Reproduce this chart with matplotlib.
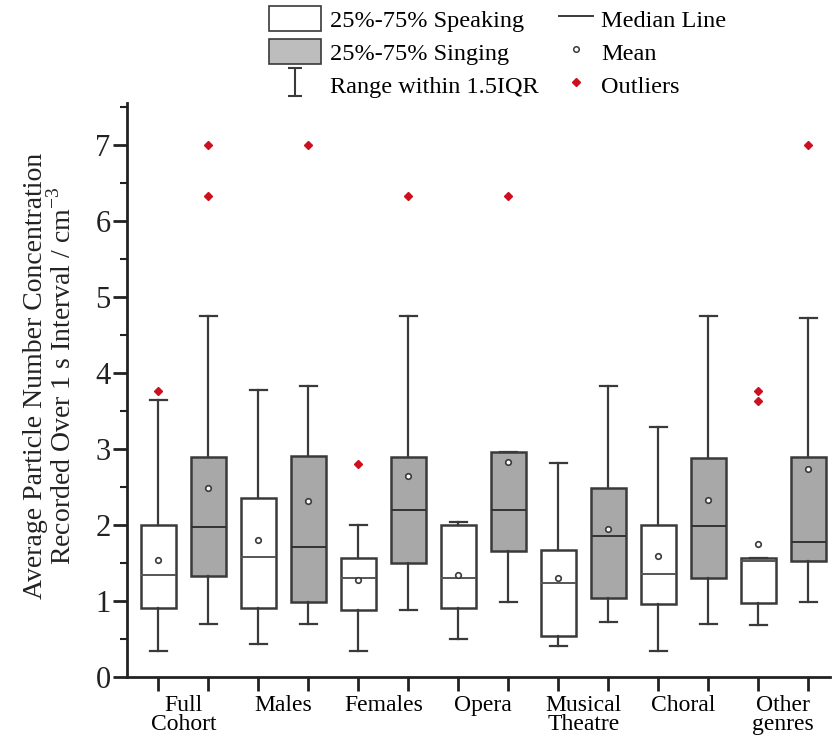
import numpy as np
import matplotlib
matplotlib.use("Agg")
import matplotlib.pyplot as plt
from matplotlib.patches import Patch
from matplotlib.lines import Line2D
from matplotlib.path import Path
from matplotlib.ticker import MultipleLocator

plt.rcParams['font.family'] = ['Liberation Serif', 'DejaVu Serif']
plt.rcParams['mathtext.fontset'] = 'custom'
plt.rcParams['mathtext.rm'] = 'Liberation Serif'

groups = ['Full\nCohort', 'Males', 'Females', 'Opera', 'Musical\nTheatre', 'Choral', 'Other\ngenres']

# speaking boxes: whislo, q1, median, q3, whishi, mean
spk_lo = [0.34, 0.43, 0.34, 0.50, 0.41, 0.34, 0.68]
spk_q1 = [0.90, 0.91, 0.88, 0.91, 0.54, 0.96, 0.97]
spk_med = [1.34, 1.58, 1.30, 1.30, 1.23, 1.35, 1.53]
spk_q3 = [2.00, 2.35, 1.56, 2.00, 1.67, 2.00, 1.57]
spk_hi = [3.64, 3.77, 2.00, 2.04, 2.81, 3.29, 1.57]
spk_mean = [1.54, 1.80, 1.28, 1.34, 1.30, 1.59, 1.75]
spk_out = [[3.76], [], [2.80], [], [], [], [3.76, 3.63]]

# singing boxes
sng_lo = [0.70, 0.70, 0.88, 0.98, 0.72, 0.70, 0.99]
sng_q1 = [1.33, 0.99, 1.50, 1.65, 1.04, 1.30, 1.52]
sng_med = [1.97, 1.71, 2.20, 2.20, 1.85, 1.98, 1.78]
sng_q3 = [2.89, 2.91, 2.89, 2.96, 2.49, 2.88, 2.89]
sng_hi = [4.75, 3.82, 4.75, 2.96, 3.82, 4.75, 4.72]
sng_mean = [2.48, 2.31, 2.64, 2.82, 1.95, 2.33, 2.74]
sng_out = [[6.33, 7.0], [7.0], [6.33], [6.33], [], [], [7.0]]

EDGE = '#3a3a3a'
GRAY = '#a8a8a8'
RED = '#cc1020'


def make_stats(lo, q1, med, q3, hi, mean, out):
    return [dict(whislo=a, q1=b, med=c, q3=d, whishi=e, mean=f, fliers=g)
            for a, b, c, d, e, f, g in zip(lo, q1, med, q3, hi, mean, out)]


fig = plt.figure(figsize=(8.32, 7.39), dpi=100)
ax = fig.add_axes([0.153, 0.084, 0.845, 0.777])

n = len(groups)
pos_spk = np.arange(n) * 2
pos_sng = np.arange(n) * 2 + 1

common = dict(widths=0.7, patch_artist=True, showmeans=True, showcaps=True,
              whiskerprops=dict(color=EDGE, linewidth=1.6),
              capprops=dict(color=EDGE, linewidth=1.6),
              meanprops=dict(marker='o', markerfacecolor='white', markeredgecolor=EDGE,
                             markersize=4, markeredgewidth=1.2),
              flierprops=dict(marker='D', markerfacecolor=RED, markeredgecolor=RED,
                              markersize=4.5, linestyle='none'))

ax.bxp(make_stats(spk_lo, spk_q1, spk_med, spk_q3, spk_hi, spk_mean, spk_out),
       positions=pos_spk,
       boxprops=dict(facecolor='white', edgecolor=EDGE, linewidth=1.8),
       medianprops=dict(color='#555555', linewidth=1.4),
       **common)
ax.bxp(make_stats(sng_lo, sng_q1, sng_med, sng_q3, sng_hi, sng_mean, sng_out),
       positions=pos_sng,
       boxprops=dict(facecolor=GRAY, edgecolor=EDGE, linewidth=1.8),
       medianprops=dict(color='#333333', linewidth=1.4),
       **common)

ax.set_xlim(-0.62, 2 * n - 1 + 0.44)
ax.set_ylim(0, 7.55)

for side in ['top', 'right']:
    ax.spines[side].set_visible(False)
for side in ['left', 'bottom']:
    ax.spines[side].set_linewidth(2)
    ax.spines[side].set_color('#222222')

ax.yaxis.set_major_locator(MultipleLocator(1))
ax.yaxis.set_minor_locator(MultipleLocator(0.5))
ax.tick_params(axis='y', which='major', length=10, width=2, labelsize=22, pad=2,
               colors='#222222')
ax.tick_params(axis='y', which='minor', length=5, width=1.5, colors='#222222')

ax.set_xticks(np.arange(2 * n))
ax.set_xticklabels([])
ax.set_xticks(np.arange(n) * 2 + 0.5, minor=True)
ax.set_xticklabels(groups, minor=True, fontsize=17, va='top', linespacing=0.9)
ax.tick_params(axis='x', which='major', length=10, width=2, colors='#222222')
ax.tick_params(axis='x', which='minor', length=0, pad=13)

ax.set_ylabel('Average Particle Number Concentration\nRecorded Over 1 s Interval / cm$^{\\mathregular{-3}}$',
              fontsize=20, linespacing=1.0, color='#222222')
ax.yaxis.set_label_coords(-0.072, 0.525)

ibeam = Path([(-0.5, 1), (0.5, 1), (0, 1), (0, -1), (-0.5, -1), (0.5, -1)],
             [Path.MOVETO, Path.LINETO, Path.MOVETO, Path.LINETO, Path.MOVETO, Path.LINETO])

handles_left = [
    Patch(facecolor='white', edgecolor=EDGE, linewidth=1.2),
    Patch(facecolor='#bdbdbd', edgecolor=EDGE, linewidth=1.2),
    Line2D([], [], linestyle='none', marker=ibeam, markersize=20, markeredgecolor=EDGE,
           markerfacecolor='none', markeredgewidth=1.5),
]
labels_left = ['25%-75% Speaking', '25%-75% Singing', 'Range within 1.5IQR']
handles_right = [
    Line2D([], [], color=EDGE, linewidth=1.4),
    Line2D([], [], linestyle='none', marker='o', markerfacecolor='white',
           markeredgecolor=EDGE, markersize=4, markeredgewidth=1.1),
    Line2D([], [], linestyle='none', marker='D', markerfacecolor=RED,
           markeredgecolor=RED, markersize=4.5),
]
labels_right = ['Median Line', 'Mean', 'Outliers']

leg_kw = dict(loc='upper left', frameon=False, fontsize=17.5, handleheight=1.2,
              handletextpad=0.35, labelspacing=0.3, borderaxespad=0, borderpad=0.25)
fig.legend(handles_left, labels_left, bbox_to_anchor=(0.316, 1.0),
           handlelength=2.15, **leg_kw)
fig.legend(handles_right, labels_right, bbox_to_anchor=(0.664, 1.0),
           handlelength=1.4, **leg_kw)

fig.savefig('out.png', dpi=100)
